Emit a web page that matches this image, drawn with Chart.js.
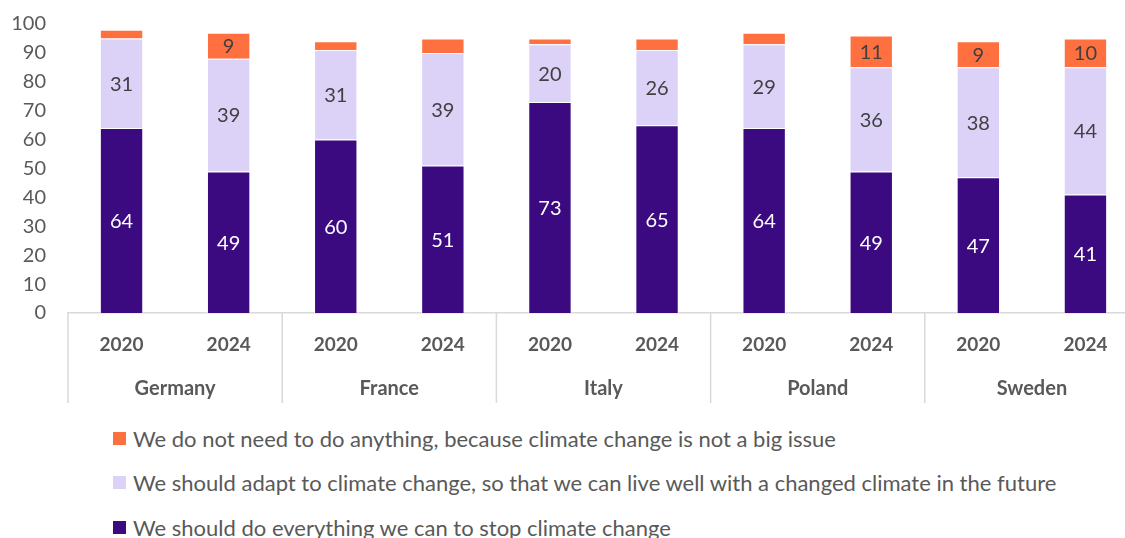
<!DOCTYPE html>
<html>
<head>
<meta charset="utf-8">
<script src="https://cdn.jsdelivr.net/npm/chart.js@4.4.1/dist/chart.umd.min.js"></script>
<style>
  body { margin: 0; background: #fff; overflow: hidden; font-family: Lato, sans-serif; }
  #wrap { position: relative; width: 1139px; height: 410px; }
  #legend { position: absolute; left: 113px; top: 416px; color: #595959; font-size: 22px; }
  .item { display: flex; align-items: center; height: 44.5px; white-space: nowrap; }
  .box { width: 13px; height: 13px; margin-right: 7px; }
</style>
</head>
<body>
<div id="wrap"><canvas id="chart" width="1139" height="410"></canvas></div>
<div id="legend"></div>
<script>
// Данные
const countries = ['Germany', 'France', 'Italy', 'Poland', 'Sweden'];
const years = ['2020', '2024'];
const stopValues = [64, 49, 60, 51, 73, 65, 64, 49, 47, 41];
const adaptValues = [31, 39, 31, 39, 20, 26, 29, 36, 38, 44];
const nothingValues = [3, 9, 3, 5, 2, 4, 4, 11, 9, 10];

const seriesNames = [
    'We should do everything we can to stop climate change',
    'We should adapt to climate change, so that we can live well with a changed climate in the future',
    'We do not need to do anything, because climate change is not a big issue'
];
const colors = ['#3b0a80', '#dcd2f7', '#ff7040'];
const labelColors = ['#ffffff', '#404040', '#404040'];

const FONT = 'Lato';
const GREY = '#595959';
const LINE = '#d9d9d9';

const labels = countries.flatMap(() => years);

// Подписи значений внутри сегментов (маленькие не показываем)
const valueLabels = {
    id: 'valueLabels',
    afterDatasetsDraw(chart) {
        const ctx = chart.ctx;
        ctx.save();
        ctx.font = `20px ${FONT}`;
        ctx.textAlign = 'center';
        ctx.textBaseline = 'middle';
        chart.data.datasets.forEach((ds, di) => {
            chart.getDatasetMeta(di).data.forEach((bar, i) => {
                const v = ds.data[i];
                if (v < 6) return;
                ctx.fillStyle = labelColors[di];
                ctx.fillText(v, bar.x, (bar.y + bar.base) / 2 + 1);
            });
        });
        ctx.restore();
    }
};

// Второй уровень оси X: страны и разделители
const countryAxis = {
    id: 'countryAxis',
    afterDraw(chart) {
        const ctx = chart.ctx;
        const x = chart.scales.x;
        const slot = x.width / labels.length;
        const bottom = chart.chartArea.bottom;
        ctx.save();
        ctx.strokeStyle = LINE;
        ctx.lineWidth = 1.5;
        ctx.fillStyle = GREY;
        ctx.font = `bold 20px ${FONT}`;
        ctx.textAlign = 'center';
        ctx.textBaseline = 'middle';
        countries.forEach((c, g) => {
            const left = x.getPixelForValue(g * 2) - slot / 2;
            ctx.beginPath();
            ctx.moveTo(left, bottom);
            ctx.lineTo(left, bottom + 90);
            ctx.stroke();
            ctx.fillText(c, left + slot, bottom + 76);
        });
        ctx.restore();
    }
};

const datasets = [stopValues, adaptValues, nothingValues].map((data, i) => ({
    label: seriesNames[i],
    data,
    backgroundColor: colors[i],
    borderColor: 'rgba(255,255,255,0.6)',
    borderWidth: 1,
    categoryPercentage: 1,
    barPercentage: 0.405
}));

const chart = new Chart(document.getElementById('chart'), {
    type: 'bar',
    data: { labels, datasets },
    options: {
        responsive: false,
        animation: false,
        layout: { padding: { top: 24, left: 0, right: 0, bottom: 0 } },
        plugins: { legend: { display: false }, tooltip: { enabled: false } },
        scales: {
            x: {
                stacked: true,
                grid: { display: false, drawTicks: false },
                border: { color: LINE, width: 1.5 },
                ticks: { color: GREY, font: { family: FONT, size: 19, weight: 'bold' }, padding: 20, maxRotation: 0 },
                afterFit(s) { s.height = 97; }
            },
            y: {
                stacked: true,
                min: 0,
                max: 100,
                grid: { display: false, drawTicks: false },
                border: { display: false },
                ticks: { stepSize: 10, color: GREY, font: { family: FONT, size: 20 }, padding: 22 },
                // отступ подписей не должен сдвигать область графика
                afterFit(s) { s.width = 68; s.paddingTop = 12; s.paddingBottom = 12; }
            }
        }
    },
    plugins: [valueLabels, countryAxis]
});

// Легенда (в обратном порядке, как в стопке)
document.getElementById('legend').innerHTML = datasets.slice().reverse().map(d => `
    <div class="item"><span class="box" style="background:${d.backgroundColor}"></span>${d.label}</div>
`).join('');
</script>
</body>
</html>
